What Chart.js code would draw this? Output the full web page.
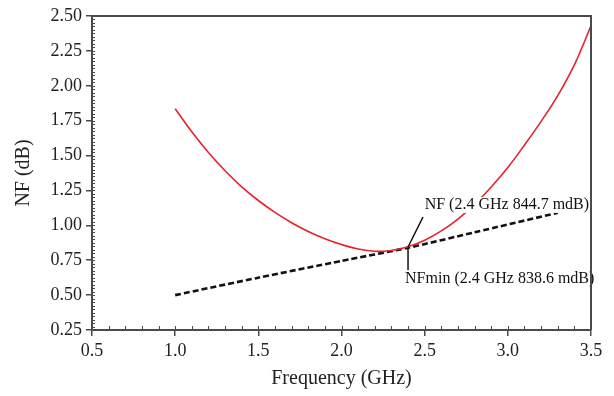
<!DOCTYPE html>
<html>
<head>
<meta charset="utf-8">
<script src="https://cdn.jsdelivr.net/npm/chart.js@4.4.1/dist/chart.umd.min.js"></script>
<style>
  html, body { margin: 0; padding: 0; background: #fff; }
  #wrap { width: 614px; height: 396px; }
</style>
</head>
<body>
<div id="wrap"><canvas id="nfChart"></canvas></div>
<script>
// Data
const nfFreq = [1.0, 1.1, 1.2, 1.3, 1.4, 1.5, 1.6, 1.7, 1.8, 1.9, 2.0, 2.1, 2.2, 2.3, 2.4,
                2.5, 2.6, 2.7, 2.8, 2.9, 3.0, 3.1, 3.2, 3.3, 3.4, 3.5];
const nfValues = [1.835, 1.670, 1.522, 1.391, 1.276, 1.178, 1.093, 1.019, 0.956, 0.904, 0.862, 0.830, 0.814, 0.820, 0.846,
                  0.893, 0.960, 1.045, 1.150, 1.275, 1.415, 1.575, 1.745, 1.930, 2.150, 2.430];
const nfminFreq = [1.0, 1.5, 2.0, 2.4, 2.8, 3.3];
const nfminValues = [0.50, 0.625, 0.745, 0.839, 0.95, 1.09];
const xTicks = [0.5, 1.0, 1.5, 2.0, 2.5, 3.0, 3.5];
const yTicks = [0.25, 0.50, 0.75, 1.00, 1.25, 1.50, 1.75, 2.00, 2.25, 2.50];

const FONT = "'Liberation Serif', 'Times New Roman', serif";
const AXIS_COLOR = '#4a4a4a';

function toPoints(xs, ys) {
    return xs.map((x, i) => ({ x: x, y: ys[i] }));
}

// frame, minor ticks, annotations
const extras = {
    id: 'extras',
    afterDraw(chart) {
        const ctx = chart.ctx;
        const a = chart.chartArea;
        const xs = chart.scales.x, ys = chart.scales.y;
        ctx.save();
        ctx.strokeStyle = AXIS_COLOR;
        ctx.lineWidth = 2;
        ctx.beginPath();
        ctx.moveTo(a.left, a.top); ctx.lineTo(a.right, a.top); ctx.lineTo(a.right, a.bottom);
        ctx.stroke();

        // minor ticks (inward)
        ctx.lineWidth = 1;
        for (let v = 0.25; v <= 2.5001; v += 0.025) {
            const py = Math.round(ys.getPixelForValue(v)) + 0.5;
            ctx.beginPath(); ctx.moveTo(a.left, py); ctx.lineTo(a.left + 3, py); ctx.stroke();
        }
        for (let v = 0.5; v <= 3.5001; v += 0.1) {
            const px = Math.round(xs.getPixelForValue(v)) + 0.5;
            ctx.beginPath(); ctx.moveTo(px, a.bottom); ctx.lineTo(px, a.bottom - 4); ctx.stroke();
        }
        ctx.restore();
    },
    afterDatasetsDraw(chart) {
        const ctx = chart.ctx;
        const xs = chart.scales.x, ys = chart.scales.y;
        const px = xs.getPixelForValue(2.4);
        const pNF = ys.getPixelForValue(0.845);
        const pMin = ys.getPixelForValue(0.839);
        ctx.save();
        ctx.font = '16px ' + FONT;
        ctx.textBaseline = 'middle';
        ctx.textAlign = 'left';

        // NF label, white box hides the curve behind it
        const t1 = 'NF (2.4 GHz 844.7 mdB)';
        const l1x = xs.getPixelForValue(2.5), l1y = ys.getPixelForValue(1.146);
        const w1 = ctx.measureText(t1).width;
        ctx.fillStyle = '#fff';
        ctx.fillRect(l1x - 2, l1y - 8, w1 + 4, 16);
        ctx.fillStyle = '#111';
        ctx.fillText(t1, l1x, l1y);
        ctx.strokeStyle = '#111';
        ctx.lineWidth = 1.5;
        ctx.beginPath();
        ctx.moveTo(xs.getPixelForValue(2.49), ys.getPixelForValue(1.06));
        ctx.lineTo(px, pNF);
        ctx.stroke();

        // NFmin label
        const t2 = 'NFmin (2.4 GHz 838.6 mdB)';
        const l2x = xs.getPixelForValue(2.382), l2y = ys.getPixelForValue(0.616);
        ctx.beginPath();
        ctx.moveTo(px, pMin);
        ctx.lineTo(px, ys.getPixelForValue(0.68));
        ctx.stroke();
        const w2 = ctx.measureText(t2).width;
        ctx.fillStyle = '#fff';
        ctx.fillRect(l2x - 1, l2y - 8, w2 + 2, 16);
        ctx.fillStyle = '#111';
        ctx.fillText(t2, l2x, l2y);
        ctx.restore();
    }
};

const ctx = document.getElementById('nfChart').getContext('2d');
const chart = new Chart(ctx, {
    type: 'line',
    data: {
        datasets: [{
            label: 'NF',
            data: toPoints(nfFreq, nfValues),
            borderColor: '#e8222a',
            borderWidth: 1.6,
            pointRadius: 0,
            tension: 0.4,
            fill: false
        }, {
            label: 'NFmin',
            data: toPoints(nfminFreq, nfminValues),
            borderColor: '#111',
            borderWidth: 2.6,
            borderDash: [6, 3],
            pointRadius: 0,
            tension: 0.2,
            fill: false
        }]
    },
    options: {
        responsive: true,
        maintainAspectRatio: false,
        animation: false,
        layout: { padding: { top: 16, right: 23, left: 0, bottom: 0 } },
        plugins: { legend: { display: false }, tooltip: { enabled: false } },
        scales: {
            x: {
                type: 'linear',
                min: 0.5, max: 3.5,
                afterFit: s => { s.height = 66; },
                afterBuildTicks: s => { s.ticks = xTicks.map(v => ({ value: v })); },
                ticks: {
                    padding: 4,
                    color: '#222',
                    font: { family: FONT, size: 18 },
                    callback: v => Number(v).toFixed(1),
                    maxRotation: 0
                },
                grid: { drawOnChartArea: false, tickLength: 6, color: AXIS_COLOR, lineWidth: 1.5 },
                border: { color: AXIS_COLOR, width: 2 },
                title: {
                    display: true, text: 'Frequency (GHz)', color: '#222',
                    font: { family: FONT, size: 20 }, padding: { top: 0, bottom: 5 }
                }
            },
            y: {
                type: 'linear',
                min: 0.25, max: 2.5,
                afterFit: s => { s.width = 92; },
                afterBuildTicks: s => { s.ticks = yTicks.map(v => ({ value: v })); },
                ticks: {
                    padding: 4,
                    color: '#222',
                    font: { family: FONT, size: 18 },
                    callback: v => Number(v).toFixed(2)
                },
                grid: { drawOnChartArea: false, tickLength: 6, color: AXIS_COLOR, lineWidth: 1.5 },
                border: { color: AXIS_COLOR, width: 2 },
                title: {
                    display: true, text: 'NF (dB)', color: '#222',
                    font: { family: FONT, size: 20 }, padding: { top: 12, bottom: 0 }
                }
            }
        }
    },
    plugins: [extras]
});
</script>
</body>
</html>
